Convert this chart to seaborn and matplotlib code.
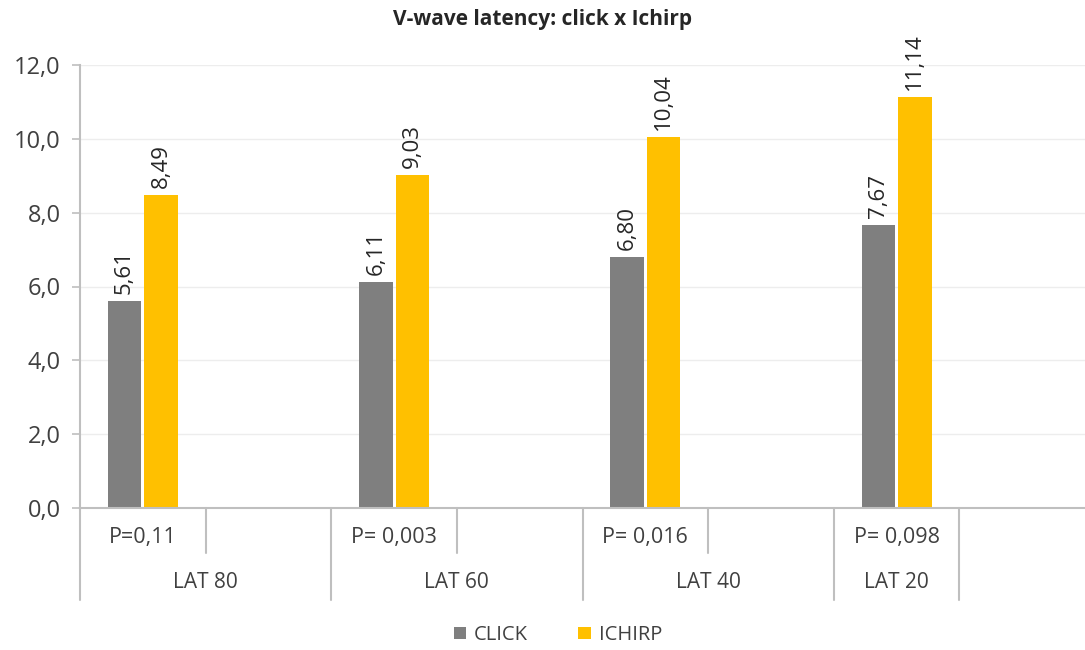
import matplotlib
matplotlib.use("Agg")
import matplotlib.pyplot as plt
import matplotlib.transforms as mtransforms
import seaborn as sns
import pandas as pd

# ---- data ----
groups = ["LAT 80", "LAT 60", "LAT 40", "LAT 20"]
p_labels = ["P=0,11", "P= 0,003", "P= 0,016", "P= 0,098"]
click = [5.61, 6.11, 6.80, 7.67]
ichirp = [8.49, 9.03, 10.04, 11.14]
series = ["CLICK", "ICHIRP"]
colors = {"CLICK": "#7f7f7f", "ICHIRP": "#ffc000"}
yticks = [0, 2, 4, 6, 8, 10, 12]

# category layout: each group has a labelled sub-category and an empty one
cats = []
for i, g in enumerate(groups):
    cats.append(f"{g}|{p_labels[i]}")
    if i < len(groups) - 1:
        cats.append(f"{g}|")
cats.append("|")  # trailing empty category

rows = []
for i, g in enumerate(groups):
    rows.append({"cat": f"{g}|{p_labels[i]}", "series": "CLICK", "value": click[i]})
    rows.append({"cat": f"{g}|{p_labels[i]}", "series": "ICHIRP", "value": ichirp[i]})
df = pd.DataFrame(rows)

sns.set_theme(style="white")
plt.rcParams["font.family"] = ["Open Sans", "DejaVu Sans"]

fig = plt.figure(figsize=(10.85, 6.5), dpi=100)
ax = fig.add_axes([80 / 1085, 1 - 508 / 650, 1 - 80 / 1085, (508 - 65) / 650])

sns.barplot(data=df, x="cat", y="value", hue="series", order=cats,
            hue_order=series, palette=colors, width=0.58, gap=0.08,
            saturation=1, ax=ax, legend=True, linewidth=0)

ax.set_xlim(-0.5, len(cats) - 0.5)
ax.set_ylim(0, 12)
ax.set_yticks(yticks)
ax.set_yticklabels([f"{v:.1f}".replace(".", ",") for v in yticks],
                   fontsize=17, color="#404040")
ax.set_xticks([])
ax.set_xlabel("")
ax.set_ylabel("")
ax.yaxis.grid(True, color="#ededed", linewidth=1)
ax.set_axisbelow(True)
for s in ["top", "right"]:
    ax.spines[s].set_visible(False)
for s in ["left", "bottom"]:
    ax.spines[s].set_color("#bfbfbf")
    ax.spines[s].set_linewidth(1.5)
ax.tick_params(axis="y", left=True, length=6, width=1.2, color="#bfbfbf", pad=8)

# data labels
for cont in ax.containers:
    for bar in cont:
        h = bar.get_height()
        if h > 0:
            ax.annotate(f"{h:.2f}".replace(".", ","),
                        (bar.get_x() + bar.get_width() / 2, h),
                        xytext=(0, 5), textcoords="offset points",
                        rotation=90, ha="center", va="bottom",
                        fontsize=16, color="#262626")

# multi-level category axis
trans = mtransforms.blended_transform_factory(ax.transData, ax.transAxes)
row1 = -45 / 443
row2 = -92 / 443
line_kw = dict(color="#bfbfbf", linewidth=1.5, clip_on=False, transform=trans)
for xs in [-0.5, 1.5, 3.5, 5.5, 6.5]:
    ax.plot([xs, xs], [0, row2], **line_kw)
for xs in [0.5, 2.5, 4.5]:
    ax.plot([xs, xs], [0, row1], **line_kw)

pos = [0, 2, 4, 6]
for i, g in enumerate(groups):
    ax.text(pos[i], -30 / 443, p_labels[i], transform=trans, ha="center",
            va="center", fontsize=15.5, color="#404040")
group_centers = [0.5, 2.5, 4.5, 6.0]
for i, g in enumerate(groups):
    ax.text(group_centers[i], -75 / 443, g, transform=trans, ha="center",
            va="center", fontsize=15, color="#404040")

fig.text(543 / 1085, 1 - 20 / 650, "V-wave latency: click x Ichirp",
         fontsize=15, fontweight="bold", color="#262626",
         ha="center", va="center")

leg = ax.legend(loc="center", bbox_to_anchor=((558 - 80) / 1005, -(635 - 508) / 443),
                ncol=2, frameon=False, fontsize=14.5, handlelength=0.6,
                handleheight=0.6, columnspacing=2.5, handletextpad=0.4)
for t in leg.get_texts():
    t.set_color("#404040")

fig.savefig("out.png", dpi=100)
